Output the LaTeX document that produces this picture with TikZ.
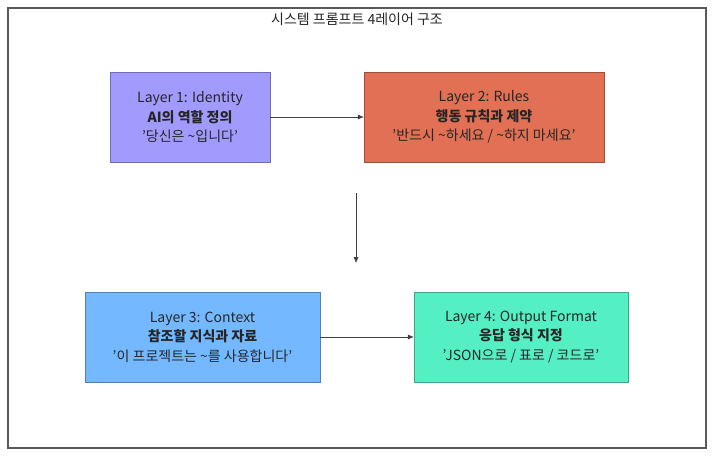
\documentclass[tikz,border=0pt]{standalone}
\usepackage{fontspec}
\setmainfont{Noto Sans CJK KR}
\usetikzlibrary{positioning,arrows.meta}
\definecolor{idfill}{HTML}{A29BFE}
\definecolor{rulefill}{HTML}{E17055}
\definecolor{ctxfill}{HTML}{74B9FF}
\definecolor{outfill}{HTML}{55EFC4}
\tikzset{
  layer/.style={draw=#1!70!black, fill=#1, minimum height=90pt, align=center,
    font=\fontsize{14}{19.5}\selectfont, text=black!85},
  link/.style={draw=black!75, -{Latex[length=6pt,width=5pt]}}
}
\begin{document}
\begin{tikzpicture}[x=1pt,y=-1pt]
\useasboundingbox (0,0) rectangle (714,456);
% Outer frame and title
\draw[black!65, line width=1.2pt] (8,8) rectangle (706,448);
\node[font=\fontsize{14}{16}\selectfont, text=black!85] (title) at (357,19) {시스템 프롬프트 4레이어 구조};

% Layers
\node[layer=idfill, minimum width=160pt] (identity) at (190,117)
  {Layer 1: Identity\\\textbf{AI의 역할 정의}\\'당신은 \textasciitilde 입니다'};
\node[layer=rulefill, minimum width=240pt] (rules) at (484,117)
  {Layer 2: Rules\\\textbf{행동 규칙과 제약}\\'반드시 \textasciitilde 하세요 / \textasciitilde 하지 마세요'};
\node[layer=ctxfill, minimum width=235pt] (context) at (202.5,337)
  {Layer 3: Context\\\textbf{참조할 지식과 자료}\\'이 프로젝트는 \textasciitilde 를 사용합니다'};
\node[layer=outfill, minimum width=214pt] (output) at (521,337)
  {Layer 4: Output Format\\\textbf{응답 형식 지정}\\'JSON으로 / 표로 / 코드로'};

% Connectors
\coordinate (down1) at (356,193);
\coordinate (down2) at (356,263);
\draw[link] (identity) -- (rules);
\draw[link] (down1) -- (down2);
\draw[link] (context) -- (output);
\end{tikzpicture}
\end{document}
